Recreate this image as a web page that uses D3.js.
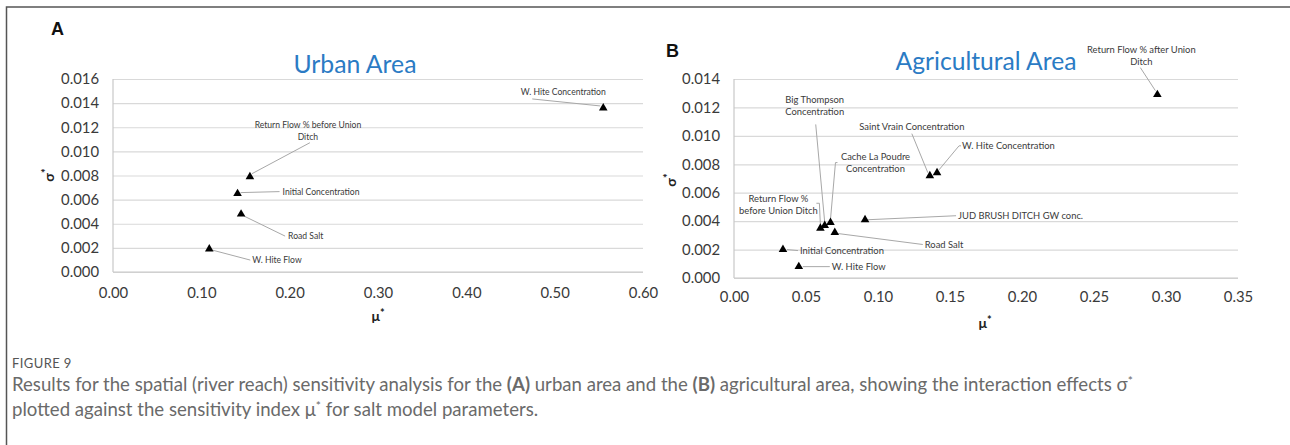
<!DOCTYPE html>
<html>
<head>
<meta charset="utf-8">
<script src="https://cdn.jsdelivr.net/npm/d3@7"></script>
<style>
  html, body { margin: 0; padding: 0; background: #fff; }
  svg { display: block; }
</style>
</head>
<body>
<svg id="fig" width="1290" height="445"></svg>
<script>
// ---- Panel A: urban area (Morris screening, mu* vs sigma*) ----
const urbanParams = ["W. Hite Concentration", "Return Flow % before Union Ditch", "Initial Concentration", "Road Salt", "W. Hite Flow"];
const urbanMu     = [0.555, 0.155, 0.141, 0.145, 0.109];
const urbanSigma  = [0.0136, 0.0079, 0.0065, 0.0048, 0.0019];
const urbanXTicks = [0, 0.1, 0.2, 0.3, 0.4, 0.5, 0.6];
const urbanYTicks = [0, 0.002, 0.004, 0.006, 0.008, 0.010, 0.012, 0.014, 0.016];

// ---- Panel B: agricultural area ----
const agriParams = ["Return Flow % after Union Ditch", "Big Thompson Concentration", "Return Flow % before Union Ditch",
                    "Cache La Poudre Concentration", "JUD BRUSH DITCH GW conc.", "Road Salt", "Saint Vrain Concentration",
                    "W. Hite Concentration", "Initial Concentration", "W. Hite Flow"];
const agriMu      = [0.294, 0.063, 0.060, 0.067, 0.091, 0.070, 0.136, 0.141, 0.034, 0.045];
const agriSigma   = [0.0129, 0.0037, 0.0035, 0.0039, 0.0041, 0.0032, 0.0072, 0.0074, 0.0020, 0.0008];
const agriXTicks  = [0, 0.05, 0.10, 0.15, 0.20, 0.25, 0.30, 0.35];
const agriYTicks  = [0, 0.002, 0.004, 0.006, 0.008, 0.010, 0.012, 0.014];

// Callout placement (pixel offsets from each marker), one entry per parameter above
const urbanCallouts = [
  { lines: ["W. Hite Concentration"], anchor: "middle", dx: -40, dy: -16, leader: [[-3, -2], [-71, -9]] },
  { lines: ["Return Flow % before Union", "Ditch"], anchor: "middle", dx: 58, dy: -52, leader: [[2, -3], [60, -34]] },
  { lines: ["Initial Concentration"], anchor: "start", dx: 45, dy: -1.5, leader: [[3, -1], [42, -2]] },
  { lines: ["Road Salt"], anchor: "start", dx: 47, dy: 22, leader: [[3, 2], [44, 22]] },
  { lines: ["W. Hite Flow"], anchor: "start", dx: 43, dy: 11, leader: [[3, 1], [41, 11]] }
];
const agriCallouts = [
  { lines: ["Return Flow % after Union", "Ditch"], anchor: "middle", dx: -16, dy: -45, leader: [[-2, -4], [-17, -27]] },
  { lines: ["Big Thompson", "Concentration"], anchor: "middle", dx: -10, dy: -126, leader: [[0, -3], [-9, -101]] },
  { lines: ["Return Flow %", "before Union Ditch"], anchor: "middle", dx: -42, dy: -30, leader: [[0, -3], [-1, -25], [-4, -25]] },
  { lines: ["Cache La Poudre", "Concentration"], anchor: "middle", dx: 45, dy: -66, leader: [[0, -3], [5, -60], [7, -60]] },
  { lines: ["JUD BRUSH DITCH GW conc."], anchor: "start", dx: 93, dy: -4, leader: [[3, 0], [91, -4]] },
  { lines: ["Road Salt"], anchor: "start", dx: 90, dy: 12, leader: [[3, 1], [88, 12]] },
  { lines: ["Saint Vrain Concentration"], anchor: "middle", dx: -18, dy: -49, leader: [[-2, -3], [-18, -42]] },
  { lines: ["W. Hite Concentration"], anchor: "start", dx: 25, dy: -27, leader: [[2, -3], [22, -27], [24, -27]] },
  { lines: ["Initial Concentration"], anchor: "start", dx: 17, dy: 1.5, leader: [[4, 0], [15, 1]] },
  { lines: ["W. Hite Flow"], anchor: "start", dx: 33, dy: 0, leader: [[4, 0], [31, 0]] }
];

const svg = d3.select("#fig");
const FONT = "Lato, 'Open Sans', sans-serif";
const TEXT = "#3a3a3a";

// Font size that makes a string span a given width
function fitSize(str, target, weight = 400, family = FONT) {
  const t = svg.append("text").attr("font-family", family).attr("font-weight", weight)
    .attr("font-size", 20).text(str);
  const w = t.node().getComputedTextLength();
  t.remove();
  return 20 * target / w;
}

// Frame around the figure
svg.append("path").attr("d", "M6.5,445 V7 H1290")
  .attr("fill", "none").attr("stroke", "#555").attr("stroke-width", 1.5);

function panel(cfg) {
  const { left, right, top, bottom } = cfg.box;
  const x = d3.scaleLinear().domain(cfg.xDomain).range([left, right]);
  const y = d3.scaleLinear().domain(cfg.yDomain).range([bottom, top]);
  const g = svg.append("g");
  const tickFs = fitSize("0.016", 38);

  // horizontal gridlines + y tick labels
  const yAxis = g.append("g").attr("transform", `translate(${left},0)`)
    .call(d3.axisLeft(y).tickValues(cfg.yTicks).tickFormat(d3.format(".3f"))
      .tickSize(-(right - left)).tickPadding(cfg.yPad));
  yAxis.select(".domain").remove();
  yAxis.selectAll(".tick line").attr("stroke", "#d9d9d9").attr("stroke-width", 1.2);
  yAxis.selectAll(".tick text").attr("font-family", FONT).attr("font-size", tickFs).attr("fill", TEXT);

  // x tick labels
  const xAxis = g.append("g").attr("transform", `translate(0,${bottom})`)
    .call(d3.axisBottom(x).tickValues(cfg.xTicks).tickFormat(d3.format(".2f")).tickSize(0).tickPadding(cfg.xPad));
  xAxis.select(".domain").remove();
  xAxis.selectAll(".tick text").attr("font-family", FONT).attr("font-size", tickFs).attr("fill", TEXT);

  // plot-area axis lines
  g.append("line").attr("x1", left).attr("x2", left).attr("y1", top).attr("y2", bottom)
    .attr("stroke", "#c8c8c8").attr("stroke-width", 1.2);
  g.append("line").attr("x1", left).attr("x2", right).attr("y1", bottom).attr("y2", bottom)
    .attr("stroke", "#c8c8c8").attr("stroke-width", 1.2);

  // panel letter and title
  g.append("text").attr("x", cfg.letterPos[0]).attr("y", cfg.letterPos[1])
    .attr("font-family", "'Liberation Sans', Arial, sans-serif").attr("font-weight", 700)
    .attr("font-size", 18).attr("fill", "#111").text(cfg.letter);
  g.append("text").attr("x", cfg.titlePos[0]).attr("y", cfg.titlePos[1]).attr("text-anchor", "middle")
    .attr("font-family", FONT).attr("font-size", fitSize(cfg.title, cfg.titleWidth))
    .attr("fill", "#2b7bc4").text(cfg.title);

  // axis titles
  const mu = g.append("text").attr("x", cfg.muPos[0]).attr("y", cfg.muPos[1]).attr("text-anchor", "middle")
    .attr("font-family", FONT).attr("font-weight", 700).attr("font-size", 14).attr("fill", "#222");
  mu.append("tspan").text("μ");
  mu.append("tspan").attr("dy", -4).attr("font-size", 11).text("*");
  const sg = g.append("text").attr("transform", `translate(${cfg.sigmaPos[0]},${cfg.sigmaPos[1]}) rotate(-90)`)
    .attr("text-anchor", "middle").attr("font-family", FONT).attr("font-weight", 700)
    .attr("font-size", 14).attr("fill", "#222");
  sg.append("tspan").text("σ");
  sg.append("tspan").attr("dy", -4).attr("font-size", 11).text("*");

  // callouts: leader lines then labels
  const pts = cfg.names.map((n, i) => ({ name: n, mu: cfg.mu[i], sigma: cfg.sigma[i], c: cfg.callouts[i] }));
  const annFs = fitSize("Initial Concentration", cfg.annWidth);
  const line = d3.line();
  g.selectAll("path.leader").data(pts).join("path").attr("class", "leader")
    .attr("d", d => line(d.c.leader.map(([dx, dy]) => [x(d.mu) + dx, y(d.sigma) + dy])))
    .attr("fill", "none").attr("stroke", "#a8a8a8").attr("stroke-width", 1);
  pts.forEach(d => {
    const t = g.append("text").attr("font-family", FONT).attr("font-size", annFs).attr("fill", TEXT)
      .attr("text-anchor", d.c.anchor);
    d.c.lines.forEach((ln, k) => {
      t.append("tspan").attr("x", x(d.mu) + d.c.dx).attr("y", y(d.sigma) + d.c.dy + k * 12)
        .attr("dy", "0.35em").text(ln);
    });
  });

  // triangle markers
  g.selectAll("path.pt").data(pts).join("path").attr("class", "pt")
    .attr("transform", d => `translate(${x(d.mu)},${y(d.sigma)})`)
    .attr("d", d3.symbol(d3.symbolTriangle, 32))
    .attr("fill", "#000");
}

panel({
  box: { left: 113, right: 643, top: 79, bottom: 272 },
  xDomain: [0, 0.6], yDomain: [0, 0.016], xTicks: urbanXTicks, yTicks: urbanYTicks,
  yPad: 14, xPad: 15,
  letter: "A", letterPos: [51, 35], title: "Urban Area", titlePos: [355, 73], titleWidth: 123,
  muPos: [378, 321], sigmaPos: [54, 175],
  names: urbanParams, mu: urbanMu, sigma: urbanSigma, callouts: urbanCallouts, annWidth: 77
});

panel({
  box: { left: 734, right: 1238, top: 79, bottom: 278 },
  xDomain: [0, 0.35], yDomain: [0, 0.014], xTicks: agriXTicks, yTicks: agriYTicks,
  yPad: 14, xPad: 13,
  letter: "B", letterPos: [666, 57], title: "Agricultural Area", titlePos: [986, 70], titleWidth: 181,
  muPos: [985, 328], sigmaPos: [676, 180],
  names: agriParams, mu: agriMu, sigma: agriSigma, callouts: agriCallouts, annWidth: 84
});

// ---- Caption ----
const capFamily = "Lato, 'Open Sans', sans-serif";
svg.append("text").attr("x", 12).attr("y", 368).attr("font-family", capFamily)
  .attr("font-size", 13).attr("fill", "#555").attr("letter-spacing", 0.4).text("FIGURE 9");

const line1 = [
  ["Results for the spatial (river reach) sensitivity analysis for the ", 400],
  ["(A)", 700], [" urban area and the ", 400], ["(B)", 700],
  [" agricultural area, showing the interaction effects σ", 400]
];
const capFs = fitSize(line1.map(d => d[0]).join("") + " ", 1115, 400, capFamily);
const c1 = svg.append("text").attr("x", 12).attr("y", 391).attr("font-family", capFamily)
  .attr("font-size", capFs).attr("fill", "#6a6a6a");
line1.forEach(([s, w]) => c1.append("tspan").attr("font-weight", w).text(s));
c1.append("tspan").attr("dy", -6).attr("font-size", capFs * 0.65).text("*");

const c2 = svg.append("text").attr("x", 12).attr("y", 416).attr("font-family", capFamily)
  .attr("font-size", capFs).attr("fill", "#6a6a6a");
c2.append("tspan").text("plotted against the sensitivity index μ");
c2.append("tspan").attr("dy", -6).attr("font-size", capFs * 0.65).text("*");
c2.append("tspan").attr("dy", 6).text(" for salt model parameters.");
</script>
</body>
</html>
